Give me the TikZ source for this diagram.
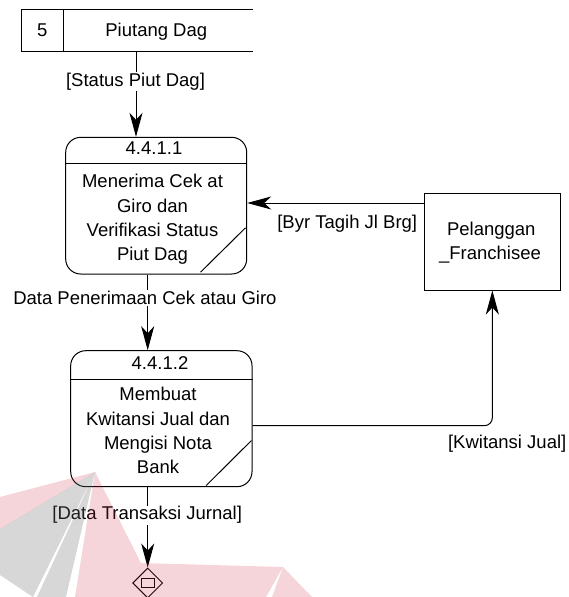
\documentclass[tikz,border=0pt]{standalone}
\usepackage{fontspec}
\setmainfont{Liberation Sans}
\usetikzlibrary{arrows.meta,shapes.geometric}
\begin{document}
\begin{tikzpicture}[x=1pt,y=-1pt,
  font=\fontsize{18.5}{24.2}\selectfont,
  line width=1pt,
  flow/.style={-{Stealth[length=24pt,width=13pt,inset=7pt]}},
  procbox/.style={draw,rounded corners=15pt,inner sep=0},
  txt/.style={inner sep=0,anchor=base},
  lbl/.style={fill=white,inner sep=1pt,anchor=base},
  body/.style={inner sep=0,align=center},
  wmpink/.style={fill={rgb,255:red,205;green,45;blue,65},fill opacity=0.2,draw=none},
  wmgray/.style={fill={rgb,255:red,110;green,110;blue,110},fill opacity=0.28,draw=none}]
\useasboundingbox (0,0) rectangle (568,597);

% data store 5: open on the right
\node[minimum width=229.7pt,minimum height=41pt,inner sep=0] (store) at (137.15,30.5) {};
\coordinate (div) at (63.3,0);
\draw (store.north east) -- (store.north west) -- (store.south west) -- (store.south east);
\draw (store.north west -| div) -- (store.south west -| div);
\node[txt] (storeid) at (42.3,36.6) {5};
\node[txt] (storename) at (156.3,36.6) {Piutang Dag};

% process 4.4.1.1
\node[procbox,minimum width=181pt,minimum height=136.7pt] (p1) at (156.2,205.65) {};
\coordinate (hd1) at (0,163.3);
\draw (p1.west |- hd1) -- (p1.east |- hd1);
\node[txt] (p1id) at (154,154.9) {4.4.1.1};
\node[body] (p1txt) at (152.5,219.5) {Menerima Cek at\\Giro dan\\Verifikasi Status\\Piut Dag};
\draw ([shift={(-46.7,-2.3)}]p1.south east) -- ([shift={(-1.7,-46.7)}]p1.south east);

% process 4.4.1.2
\node[procbox,minimum width=181.3pt,minimum height=136pt] (p2) at (161.35,418.7) {};
\coordinate (hd2) at (0,379.3);
\draw (p2.west |- hd2) -- (p2.east |- hd2);
\node[txt] (p2id) at (160,369.6) {4.4.1.2};
\node[body] (p2txt) at (158,430.5) {Membuat\\Kwitansi Jual dan\\Mengisi Nota\\Bank};
\draw ([shift={(-46.3,-1.7)}]p2.south east) -- ([shift={(-1,-46.7)}]p2.south east);

% external entity
\node[draw,minimum width=136.7pt,minimum height=96.7pt,inner sep=0] (ent) at (492.35,241.65) {};
\node[txt] (entl1) at (491.3,235.9) {Pelanggan};
\node[txt] (entl2) at (490,259.3) {\_Franchisee};

% off-page connector
\node[draw,shape=diamond,minimum width=30pt,minimum height=30pt,inner sep=0] (dia) at (147.7,583) {};
\node[draw,minimum width=13pt,minimum height=9pt,inner sep=0] (dbox) at (147.7,583.3) {};

% flows
\coordinate (c1) at (136,0);
\coordinate (c2) at (147.7,0);
\coordinate (byr) at (0,203);
\coordinate (kw) at (0,425.7);
\draw[flow] (store.south -| c1) -- (p1.north -| c1);
\draw[flow] (p1.south -| c2) -- (p2.north -| c2);
\draw[flow] (p2.south -| c2) -- (dia.north);
\draw[flow] (ent.west |- byr) -- (p1.east |- byr);
\draw[flow,rounded corners=8pt] (p2.east |- kw) -| (ent.south);

% flow labels
\node[lbl] (l1) at (135.5,86.6) {[Status Piut Dag]};
\node[lbl] (l2) at (144.9,304.6) {Data Penerimaan Cek atau Giro};
\node[lbl] (l3) at (147.2,519.9) {[Data Transaksi Jurnal]};
\node[txt] (l4) at (347.2,228.3) {[Byr Tagih Jl Brg]};
\node[txt] (l5) at (507.2,448.3) {[Kwitansi Jual]};

% faint logo in the lower part
\fill[wmpink] (95,472) -- (0,497) -- (0,529) -- cycle;
\fill[wmgray] (95,472) -- (0,529) -- (0,575) -- (33,597) -- cycle;
\fill[wmgray] (95,472) -- (37,597) -- (66,597) -- cycle;
\fill[wmpink] (95,472) -- (141,563) -- (283,567) -- (266,597) -- (75,597) -- cycle;
\fill[wmpink] (283,567) -- (312,597) -- (272,597) -- cycle;
\end{tikzpicture}
\end{document}
